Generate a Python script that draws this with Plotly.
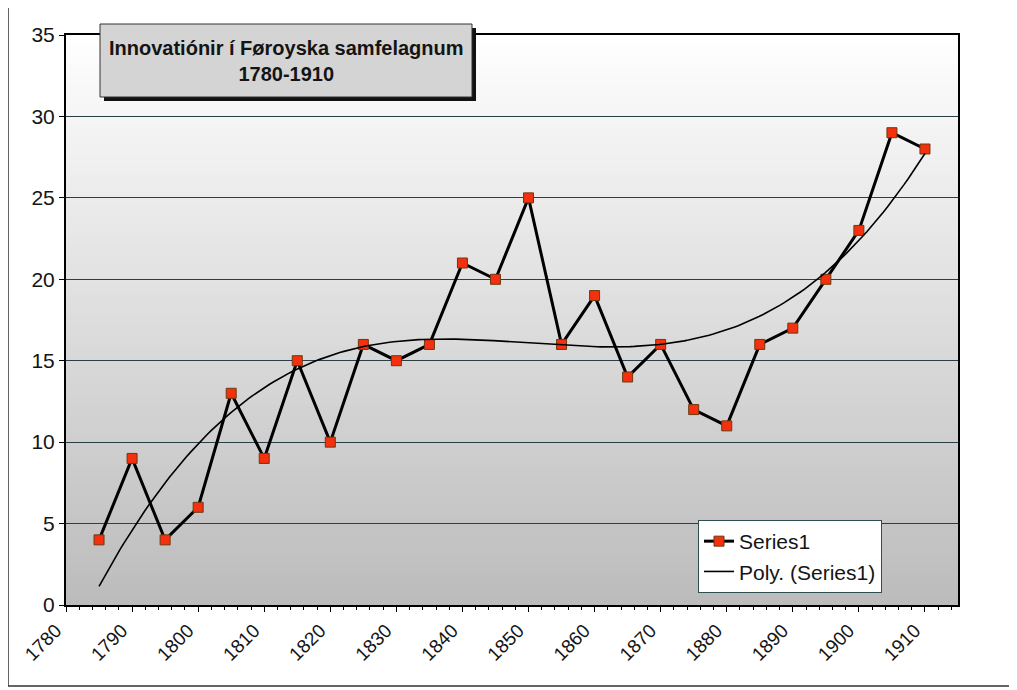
import numpy as np
import plotly.graph_objects as go

years = [1785, 1790, 1795, 1800, 1805, 1810, 1815, 1820, 1825, 1830, 1835, 1840, 1845,
         1850, 1855, 1860, 1865, 1870, 1875, 1880, 1885, 1890, 1895, 1900, 1905, 1910]
values = [4, 9, 4, 6, 13, 9, 15, 10, 16, 15, 16, 21, 20,
          25, 16, 19, 14, 16, 12, 11, 16, 17, 20, 23, 29, 28]
tick_years = list(range(1780, 1911, 10))
title_text = "Innovatiónir í Føroyska samfelagnum<br>1780-1910"
poly_order = 3

# polynomial trendline (as Excel's Poly. trendline)
xs = np.array(years, dtype=float)
xc = (xs - xs.mean()) / 10.0
coef = np.polyfit(xc, np.array(values, dtype=float), poly_order)
fine = np.linspace(xs.min(), xs.max(), 200)
trend = np.polyval(coef, (fine - xs.mean()) / 10.0)

FONT = "Arial, Liberation Sans, sans-serif"
TXT = "#141414"

# page offset of the figure (default body margin)
OFF = 8
PL, PR, PT, PB = 66, 958, 35, 605  # plot area in page pixels
PW, PH = PR - PL, PB - PT


def px(x):
    return (x - PL) / PW


def py(y):
    return (PB - y) / PH


fig = go.Figure()
fig.add_trace(go.Scatter(
    x=years, y=values, mode="lines+markers", name="Series1",
    line=dict(color="black", width=3),
    marker=dict(symbol="square", size=10, color="#f5300f",
                line=dict(color="#6b3a10", width=1)),
))
fig.add_trace(go.Scatter(
    x=fine, y=trend, mode="lines", name="Poly. (Series1)",
    line=dict(color="black", width=1.6),
))

shapes = []
# gradient background strips (white top -> gray bottom)
n = 57
top = np.array([255, 255, 255])
bot = np.array([188, 188, 188])
for i in range(n):
    t = (i + 0.5) / n
    c = top + (bot - top) * t
    shapes.append(dict(type="rect", xref="paper", yref="paper",
                       x0=0, x1=1, y0=1 - (i + 1) / n, y1=1 - i / n,
                       fillcolor="rgb(%d,%d,%d)" % tuple(c.astype(int)),
                       line=dict(width=0), layer="below"))
# outer chart frame
shapes.append(dict(type="rect", xref="paper", yref="paper",
                   x0=px(8), x1=px(1010), y0=py(686), y1=py(6),
                   line=dict(color="#333333", width=1.5), layer="above"))
# title box shadow and box
bx0, bx1 = px(100), px(472)
by0, by1 = py(97), py(24)
shapes.append(dict(type="rect", xref="paper", yref="paper",
                   x0=px(104), x1=px(476), y0=py(101), y1=py(28),
                   fillcolor="#111111", line=dict(width=0), layer="above"))
shapes.append(dict(type="rect", xref="paper", yref="paper",
                   x0=bx0, x1=bx1, y0=by0, y1=by1,
                   fillcolor="#d4d4d4", line=dict(color="#333333", width=1), layer="above"))

fig.update_layout(
    width=1017 - OFF, height=690 - OFF,
    margin=dict(l=PL - OFF, r=1017 - PR, t=PT - OFF, b=690 - PB),
    paper_bgcolor="white", plot_bgcolor="rgba(0,0,0,0)",
    font=dict(family=FONT, color=TXT),
    shapes=shapes,
    showlegend=True,
    legend=dict(x=px(698), y=py(520), xanchor="left", yanchor="top",
                bgcolor="white", bordercolor="#2f4f4f", borderwidth=1,
                font=dict(size=21, family=FONT, color=TXT),
                itemwidth=30, tracegroupgap=0),
    annotations=[dict(text="<b>" + title_text + "</b>", xref="paper", yref="paper",
                      x=(bx0 + bx1) / 2, y=(by0 + by1) / 2, xanchor="center", yanchor="middle",
                      showarrow=False, font=dict(size=20, family=FONT, color=TXT),
                      align="center")],
)
fig.update_xaxes(
    range=[1780, 1915], tickmode="array", tickvals=tick_years,
    ticktext=[str(v) for v in tick_years],
    tickangle=-45, ticks="outside", ticklen=5, tickcolor="black",
    tickfont=dict(size=19, family=FONT, color=TXT),
    showline=True, linecolor="black", linewidth=2, mirror=True,
    showgrid=False, zeroline=False, ticklabelshift=-10,
    minor=dict(dtick=2, tick0=1780, ticks="outside", ticklen=3, tickcolor="black"),
)
fig.update_yaxes(
    range=[0, 35], dtick=5, ticks="outside", ticklen=5, tickcolor="black",
    tickfont=dict(size=21, family=FONT, color=TXT),
    showline=True, linecolor="black", linewidth=2, mirror=True,
    showgrid=True, gridcolor="#2a3f44", gridwidth=1, zeroline=False,
)

fig.write_html("out.html")
